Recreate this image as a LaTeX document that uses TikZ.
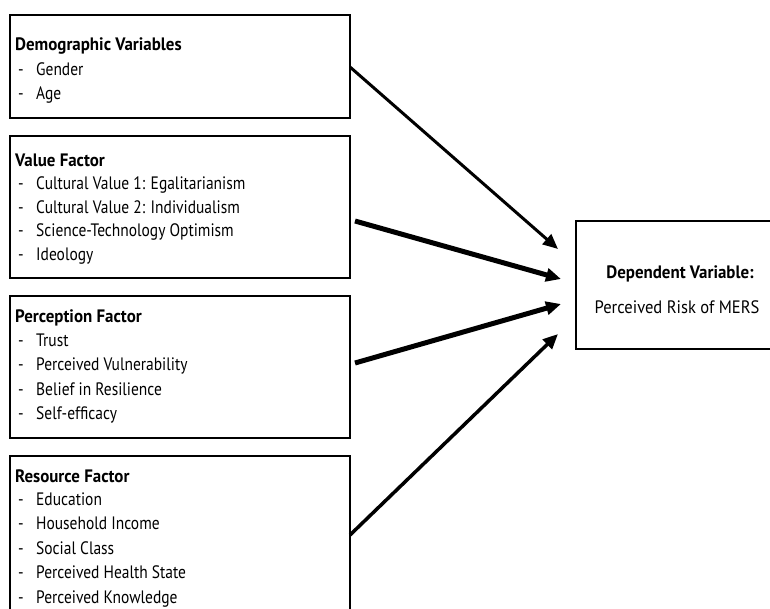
\documentclass[tikz,border=0pt]{standalone}
\usepackage{fontspec}
\setmainfont{PT Sans}
\newfontfamily\itfont{PT Sans}[FakeStretch=0.86]
\newfontfamily\hdfont{PT Sans}[FakeStretch=0.94]
\newfontfamily\dvfont{PT Sans}[FakeStretch=0.92]
\usetikzlibrary{arrows.meta}
\tikzset{
  box/.style={draw, line width=1.3pt, inner sep=0pt, outer sep=0pt},
  hd/.style={anchor=base west, inner sep=0pt, font=\hdfont\fontsize{18}{20}\selectfont\bfseries},
  it/.style={anchor=base west, inner sep=0pt, font=\itfont\fontsize{18}{20}\selectfont},
  arr/.style={-{Triangle[length=15pt,width=13pt]}, line width=#1},
}
\newcommand{\itm}[1]{\makebox[18pt][l]{-}#1}
\begin{document}
\begin{tikzpicture}[x=1pt,y=-1pt]
\useasboundingbox (0,0) rectangle (770,608);
\clip (0,0) rectangle (770,608);
\fill[white] (0,0) rectangle (770,608);
% boxes
\node[box, minimum width=340pt, minimum height=103pt] (b1) at (180,66.5) {};
\node[box, minimum width=340pt, minimum height=142pt] (b2) at (180,207) {};
\node[box, minimum width=340pt, minimum height=142pt] (b3) at (180,367) {};
\node[box, minimum width=340pt, minimum height=164pt] (b4) at (180,538) {};
\node[box, minimum width=208pt, minimum height=128pt] (dv) at (680,285) {};
% box 1
\node[hd] (h1) at (15,50) {Demographic Variables};
\node[it] (i11) at (18,75) {\itm{Gender}};
\node[it] (i12) at (18,99) {\itm{Age}};
% box 2
\node[hd] (h2) at (15,166) {Value Factor};
\node[it] (i21) at (18,189) {\itm{Cultural Value 1: Egalitarianism}};
\node[it] (i22) at (18,213) {\itm{Cultural Value 2: Individualism}};
\node[it] (i23) at (18,236) {\itm{Science-Technology Optimism}};
\node[it] (i24) at (18,260) {\itm{Ideology}};
% box 3
\node[hd] (h3) at (15,322) {Perception Factor};
\node[it] (i31) at (18,346) {\itm{Trust}};
\node[it] (i32) at (18,370) {\itm{Perceived Vulnerability}};
\node[it] (i33) at (18,395) {\itm{Belief in Resilience}};
\node[it] (i34) at (18,419) {\itm{Self-efficacy}};
% box 4
\node[hd] (h4) at (15,482) {Resource Factor};
\node[it] (i41) at (18,505) {\itm{Education}};
\node[it] (i42) at (18,529.5) {\itm{Household Income}};
\node[it] (i43) at (18,554) {\itm{Social Class}};
\node[it] (i44) at (18,578.5) {\itm{Perceived Health State}};
\node[it] (i45) at (18,603) {\itm{Perceived Knowledge}};
% dependent
\node[hd, anchor=base] (dvh) at (680,278) {Dependent Variable:};
\node[it, anchor=base, font=\dvfont\fontsize{18}{20}\selectfont] (dvt) at (677,313) {Perceived Risk of MERS};
% arrows
\coordinate (s1) at (350,67);
\coordinate (s2) at (355,221);
\coordinate (s3) at (355,363);
\coordinate (s4) at (350,535);
\coordinate (e1) at (558,249);
\coordinate (e2) at (561,279);
\coordinate (e3) at (561,304);
\coordinate (e4) at (558,334);
\draw[arr=3pt] (s1) -- (e1);
\draw[arr=5pt] (s2) -- (e2);
\draw[arr=5pt] (s3) -- (e3);
\draw[arr=3.5pt] (s4) -- (e4);
\end{tikzpicture}
\end{document}
